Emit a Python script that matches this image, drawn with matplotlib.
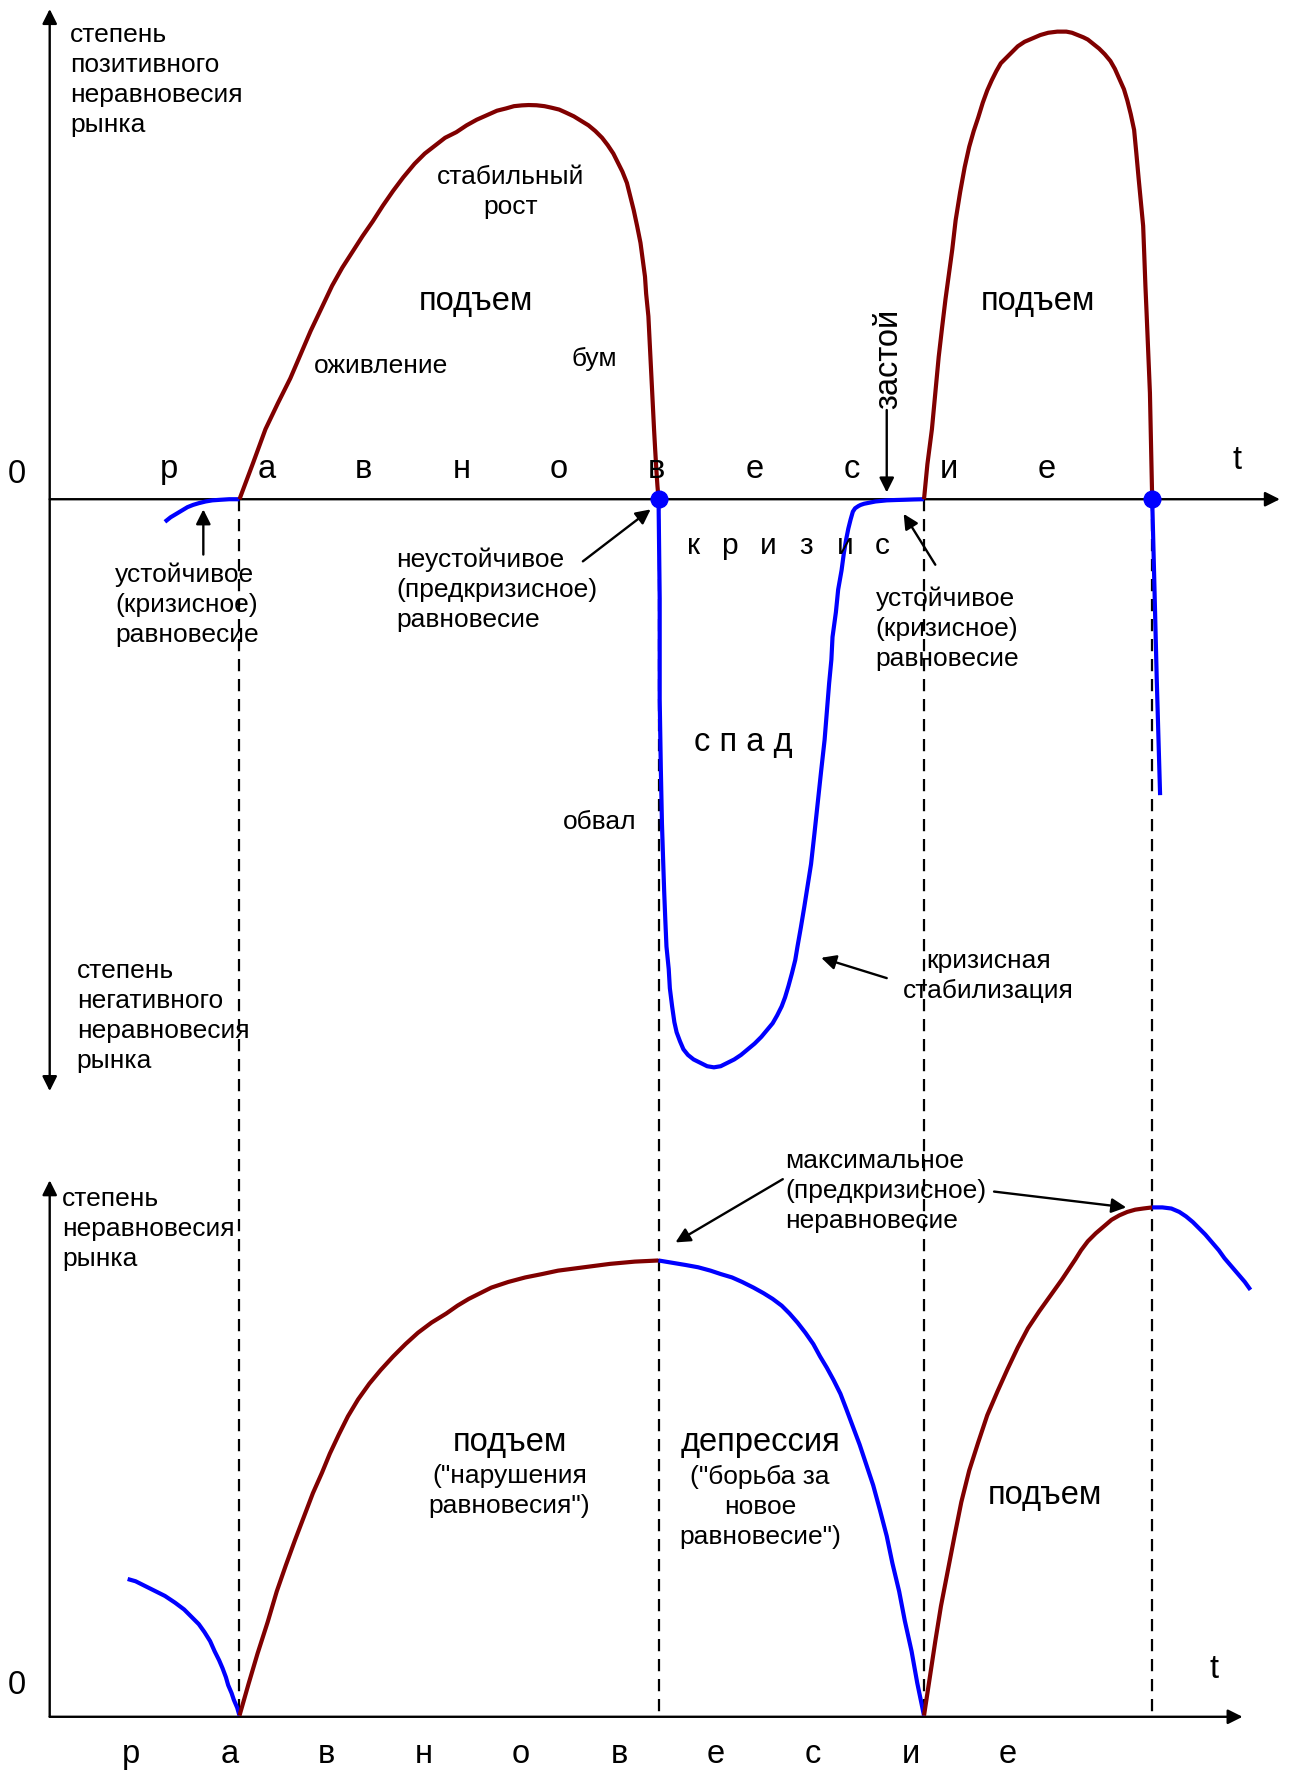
import matplotlib.pyplot as plt

plt.rcParams['font.family'] = ['Liberation Sans', 'DejaVu Sans']

W, H = 1142, 1568          # drawing space, y grows downward
RED, BLUE = '#800000', '#0000ff'

# phase boundaries on the time axis
event_t = [212, 583, 818, 1020]
zero_top, zero_bot = 442, 1520

word = list("равновесие")
top_letter_x = [150, 236, 322, 409, 495, 581, 668, 754, 840, 927]
bot_letter_x = [116, 203, 289, 375, 461, 548, 634, 720, 806, 892]
crisis_word = list("кризис")
crisis_x = [614, 646, 680, 714, 748, 781]

# upper panel: degree of positive / negative disequilibrium
eq_left_x = [146, 151, 156, 161, 166, 171, 176, 182, 188, 195, 203, 212]
eq_left_y = [462, 458, 455, 452, 449, 447, 445.5, 444, 443, 442.5, 442, 442]

boom1_x = [212, 224, 235, 246, 257, 266, 275, 285, 294, 303, 312, 321, 330, 339, 348, 357, 367,
           376, 385, 394, 404, 413, 422, 431, 440, 448, 455, 462, 468, 475, 482, 488, 495, 501,
           508, 514, 521, 527, 533, 538, 543, 547, 551, 555, 558, 561, 564, 567, 569, 571, 572,
           574, 575, 576, 577, 578, 579, 580, 581, 582, 583]
boom1_y = [442, 410, 380, 357, 335, 314, 293, 272, 253, 237, 223, 209, 196, 182, 169, 157, 145,
           136, 129, 122, 117, 111, 106, 102, 98, 96, 94, 93.3, 93, 93.2, 94, 95.3, 97, 99.7,
           103, 106.7, 111, 116, 122, 128.5, 136, 144, 152, 162, 174, 186, 200, 215, 230, 245,
           260, 280, 300, 320, 340, 360, 380, 398, 415, 430, 442]

crisis_x_pts = [583, 584, 584, 585, 586, 587, 588, 589, 590, 592, 593, 595, 597, 599, 602, 605,
                609, 614, 620, 626, 632, 638, 644, 650, 656, 662, 668, 674, 679, 684, 688, 692,
                695, 698, 701, 704, 706, 709, 712, 715, 718, 721, 724, 727, 730, 732, 734, 736,
                737, 740, 742, 745, 747, 749, 751, 753, 755, 757, 760, 762, 765, 770, 775, 780,
                785, 793, 800, 809, 818]
crisis_y_pts = [442, 530, 619, 680, 729, 760, 790, 815, 838, 858, 875, 891, 905, 914, 922, 929,
                934, 938, 941, 944, 945, 944, 941, 938, 934, 929, 924, 918, 912, 906, 899, 891,
                883, 873, 862, 850, 838, 821, 803, 784, 765, 738, 710, 682, 655, 630, 605, 584,
                564, 542, 522, 505, 490, 478, 468, 460, 453, 450, 448, 447, 446, 445, 444, 443.5,
                443, 442.7, 442.5, 442.2, 442]

boom2_x = [818, 821, 825, 828, 831, 834, 837, 840, 843, 846, 850, 854, 858, 862, 866, 870, 874,
           878, 882, 886, 891, 896, 901, 907, 914, 921, 928, 936, 944, 949, 954, 959, 963, 968,
           973, 978, 983, 987, 991, 995, 998, 1001, 1004, 1006, 1008, 1010, 1012, 1013, 1014,
           1015, 1016, 1017, 1018, 1019, 1020]
boom2_y = [442, 411, 380, 348, 316, 290, 265, 243, 221, 195, 170, 148, 130, 116, 104, 91, 80,
           71, 63, 56, 51, 46, 41, 37, 34, 31, 29, 28, 28, 29, 31, 33, 35, 39, 43, 48, 54, 61,
           70, 79, 89, 101, 115, 136, 158, 179, 200, 226, 253, 276, 300, 324, 348, 395, 442]

fall2_x = [1020, 1022, 1024, 1027]
fall2_y = [442, 520, 600, 704]

# lower panel: degree of market disequilibrium
dep0_x = [113, 120, 126, 132, 138, 146, 155, 163, 170, 176, 181, 186, 190, 194, 197, 200, 202,
          205, 207, 210, 212]
dep0_y = [1398, 1400, 1403, 1406, 1409, 1413, 1419, 1425, 1432, 1438, 1445, 1453, 1462, 1470,
          1477, 1485, 1492, 1499, 1505, 1512, 1519]

up1_x = [212, 220, 228, 237, 245, 253, 261, 269, 277, 285, 292, 300, 308, 317, 327, 337, 348,
         359, 370, 382, 395, 405, 415, 425, 435, 450, 465, 480, 494, 517, 540, 562, 583]
up1_y = [1519, 1491, 1464, 1436, 1409, 1386, 1364, 1343, 1322, 1304, 1287, 1270, 1254, 1239,
         1225, 1213, 1201, 1190, 1180, 1171, 1163, 1156, 1150, 1145, 1140, 1135, 1131, 1128,
         1125, 1122, 1119, 1117, 1116]

dep1_x = [583, 595, 607, 618, 629, 638, 648, 657, 667, 676, 684, 692, 699, 706, 713, 720, 726,
          732, 738, 744, 749, 755, 761, 767, 773, 779, 785, 790, 796, 801, 807, 812, 818]
dep1_y = [1116, 1118, 1120, 1122, 1125, 1128, 1131, 1135, 1140, 1145, 1150, 1156, 1163, 1171,
          1180, 1190, 1201, 1211, 1222, 1234, 1247, 1263, 1279, 1297, 1315, 1337, 1360, 1384,
          1409, 1435, 1462, 1490, 1519]

up2_x = [818, 823, 828, 833, 839, 845, 851, 858, 866, 874, 883, 892, 901, 910, 920, 930, 940,
         946, 952, 957, 963, 970, 977, 984, 991, 998, 1005, 1012, 1020]
up2_y = [1519, 1486, 1453, 1422, 1391, 1360, 1330, 1302, 1277, 1253, 1232, 1212, 1193, 1176,
         1161, 1147, 1133, 1124, 1115, 1107, 1099, 1092, 1086, 1080, 1076, 1073, 1071, 1070, 1069]

dep2_x = [1020, 1029, 1037, 1044, 1050, 1056, 1061, 1067, 1073, 1079, 1084, 1090, 1096, 1102, 1107]
dep2_y = [1069, 1069, 1070, 1073, 1077, 1082, 1087, 1093, 1100, 1107, 1114, 1121, 1128, 1135, 1142]

fig = plt.figure(figsize=(12.9, 17.71), dpi=100)
ax = fig.add_axes([0, 0, 1, 1])
ax.set_xlim(0, W)
ax.set_ylim(H, 0)
ax.axis('off')

small, big = 19, 23.5
arr = dict(arrowstyle='-|>', color='k', lw=1.7, mutation_scale=22, shrinkA=0, shrinkB=0)


def arrow(tip, tail, **kw):
    props = dict(arr)
    props.update(kw)
    ax.annotate('', xy=tip, xytext=tail, arrowprops=props)


# axes
arrow((44, 8), (44, 966), arrowstyle='<|-|>')
arrow((1133, zero_top), (44, zero_top))
arrow((44, 1045), (44, zero_bot))
arrow((1100, zero_bot), (44, zero_bot))

for t in event_t:
    ax.plot([t, t], [zero_top, zero_bot], color='k', lw=1.6, ls=(0, (5.5, 3.5)), zorder=1)

# curves
lw = 3.0
curve = dict(lw=lw, zorder=3, solid_joinstyle='round', solid_capstyle='butt')
ax.plot(eq_left_x, eq_left_y, color=BLUE, **curve)
ax.plot(boom1_x, boom1_y, color=RED, **curve)
ax.plot(crisis_x_pts, crisis_y_pts, color=BLUE, **curve)
ax.plot(boom2_x, boom2_y, color=RED, **curve)
ax.plot(fall2_x, fall2_y, color=BLUE, **curve)
ax.plot([event_t[1], event_t[3]], [zero_top, zero_top], 'o', color=BLUE, ms=12, zorder=4)

ax.plot(dep0_x, dep0_y, color=BLUE, **curve)
ax.plot(up1_x, up1_y, color=RED, **curve)
ax.plot(dep1_x, dep1_y, color=BLUE, **curve)
ax.plot(up2_x, up2_y, color=RED, **curve)
ax.plot(dep2_x, dep2_y, color=BLUE, **curve)

# axis letters
for x, ch in zip(top_letter_x, word):
    ax.text(x, 416, ch, fontsize=big, ha='center', va='center')
for x, ch in zip(bot_letter_x, word):
    ax.text(x, 1553, ch, fontsize=big, ha='center', va='center')
for x, ch in zip(crisis_x, crisis_word):
    ax.text(x, 483, ch, fontsize=big - 2, ha='center', va='center')

ax.text(15, 420, '0', fontsize=big, ha='center', va='center')
ax.text(15, 1492, '0', fontsize=big, ha='center', va='center')
ax.text(1095, 408, 't', fontsize=big, ha='center', va='center')
ax.text(1075, 1478, 't', fontsize=big, ha='center', va='center')

ls = 1.32
ax.text(62, 20, 'степень\nпозитивного\nнеравновесия\nрынка', fontsize=small, va='top', linespacing=ls)
ax.text(68, 849, 'степень\nнегативного\nнеравновесия\nрынка', fontsize=small, va='top', linespacing=ls)
ax.text(452, 170, 'стабильный\nрост', fontsize=small, ha='center', va='center', linespacing=ls)
ax.text(421, 267, 'подъем', fontsize=big, ha='center', va='center')
ax.text(919, 267, 'подъем', fontsize=big, ha='center', va='center')
ax.text(337, 324, 'оживление', fontsize=small, ha='center', va='center')
ax.text(526, 318, 'бум', fontsize=small, ha='center', va='center')
ax.text(787, 318, 'застой', fontsize=big, ha='center', va='center', rotation=90)
arrow((785, 436), (785, 363))

ax.text(102, 498, 'устойчивое\n(кризисное)\nравновесие', fontsize=small, va='top', linespacing=ls)
arrow((180, 451), (180, 491))
ax.text(351, 485, 'неустойчивое\n(предкризисное)\nравновесие', fontsize=small, va='top', linespacing=ls)
arrow((576, 451), (516, 497))
ax.text(775, 519, 'устойчивое\n(кризисное)\nравновесие', fontsize=small, va='top', linespacing=ls)
arrow((800, 455), (828, 500))

ax.text(658, 657, 'с п а д', fontsize=big, ha='center', va='center')
ax.text(531, 728, 'обвал', fontsize=small, ha='center', va='center')
ax.text(875, 864, 'кризисная\nстабилизация', fontsize=small, ha='center', va='center', linespacing=ls)
arrow((727, 848), (785, 866))

ax.text(55, 1051, 'степень\nнеравновесия\nрынка', fontsize=small, va='top', linespacing=ls)
ax.text(695, 1017, 'максимальное\n(предкризисное)\nнеравновесие', fontsize=small, va='top', linespacing=ls)
arrow((598, 1100), (693, 1044))
arrow((997, 1069), (880, 1055))

ax.text(451, 1277, 'подъем', fontsize=big, ha='center', va='center')
ax.text(451, 1320, '("нарушения\nравновесия")', fontsize=small, ha='center', va='center', linespacing=ls)
ax.text(673, 1277, 'депрессия', fontsize=big, ha='center', va='center')
ax.text(673, 1334, '("борьба за\nновое\nравновесие")', fontsize=small, ha='center', va='center', linespacing=ls)
ax.text(925, 1324, 'подъем', fontsize=big, ha='center', va='center')

fig.savefig('out.png', dpi=100)
